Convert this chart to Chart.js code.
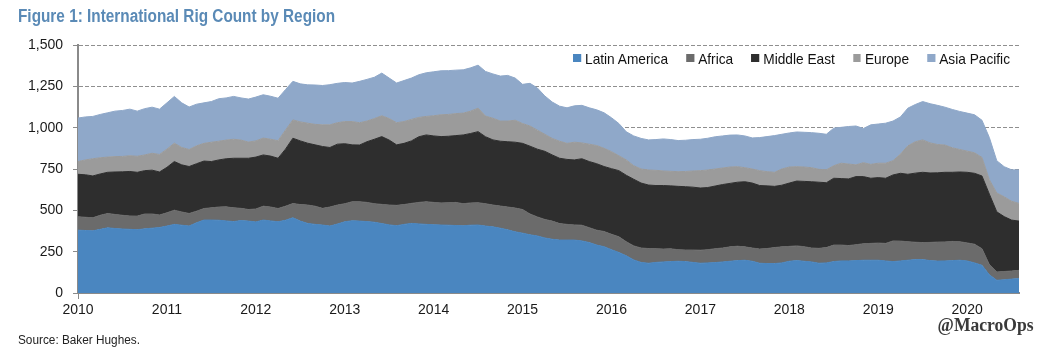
<!DOCTYPE html>
<html>
<head>
<meta charset="utf-8">
<script src="https://cdn.jsdelivr.net/npm/chart.js@4"></script>
<style>
  html, body { margin: 0; padding: 0; background: #fff; }
  #wrap { position: relative; width: 1061px; height: 357px; overflow: hidden; background: #fff; }
  #c { position: absolute; left: 0; top: 0; }
  .sans { font-family: 'Liberation Sans', Arial, sans-serif; }
  .fit { transform-origin: 0 50%; }
  #title { position: absolute; left: 18px; top: 6px; font-size: 18px; line-height: 20px; font-weight: bold; color: #5a8ab6; white-space: nowrap; }
  #source { position: absolute; left: 18px; top: 333px; font-size: 12px; line-height: 14px; color: #222; white-space: nowrap; }
  #mark { position: absolute; right: 25px; top: 315px; font-family: 'Liberation Serif', 'DejaVu Serif', serif; font-weight: bold; font-size: 18.5px; color: #3a3a3a; white-space: nowrap; }
  #legend { position: absolute; left: 573px; top: 49px; height: 18px; display: flex; align-items: center; font-size: 15px; color: #111; white-space: nowrap; }
  #legend .item { display: flex; align-items: center; margin-right: 19.8px; }
  #legend .item:last-child { margin-right: 0; }
  #legend .box { width: 8.8px; height: 8px; margin-right: 4.4px; }
</style>
</head>
<body>
<div id="wrap">
  <canvas id="c" width="1061" height="357"></canvas>
  <div id="title" class="sans fit">Figure 1: International Rig Count by Region</div>
  <div id="legend" class="sans fit"></div>
  <div id="source" class="sans fit">Source: Baker Hughes.</div>
  <div id="mark">@MacroOps</div>
</div>
<script>
// Tick labels (years) and y ticks
const yearTicks = ['2010','2011','2012','2013','2014','2015','2016','2017','2018','2019','2020'];
const yTickValues = [0, 250, 500, 750, 1000, 1250, 1500];

// Categories: monthly, Jan 2010 .. Aug 2020 (128 months)
const months = [];
for (const y of yearTicks) {
  for (let m = 1; m <= 12; m++) {
    if (months.length < 128) months.push(y + '-' + String(m).padStart(2, '0'));
  }
}

const seriesNames = ['Latin America', 'Africa', 'Middle East', 'Europe', 'Asia Pacific'];
const seriesColors = ['#4a86c0', '#6b6b6b', '#2e2e2e', '#9b9b9b', '#8fa8c9'];

const latinAmerica = [
380,378,376,385,394,390,387,385,383,388,392,396,
405,415,410,405,425,441,441,440,436,432,438,435,
430,441,436,431,440,455,435,421,415,411,405,417,
431,437,435,432,428,420,412,407,415,421,418,415,
413,411,410,408,407,410,411,405,400,392,382,370,
362,352,345,333,325,320,320,320,315,305,290,280,
262,245,225,200,185,180,185,188,190,192,190,185,
180,182,184,188,192,196,198,192,180,178,178,182,
192,196,192,188,180,182,190,194,194,196,198,198,
198,194,190,194,198,202,202,196,193,194,196,198,
194,182,168,110,77,80,84,87];

const africa = [
81,80,79,85,87,85,83,81,82,90,86,76,
80,86,80,76,70,70,74,80,85,83,74,70,
78,84,84,80,85,86,100,111,110,101,115,115,
109,115,117,116,112,116,120,123,120,121,130,137,
135,134,136,140,133,135,135,135,132,134,138,144,
143,126,115,112,110,100,95,92,95,90,90,92,
93,95,85,85,87,89,83,78,77,70,70,75,
79,80,84,84,87,87,81,80,86,91,97,97,
90,89,88,84,90,93,100,96,93,96,100,102,
104,106,125,120,112,105,103,110,115,115,116,112,
109,113,100,62,50,50,49,50];

const middleEast = [
257,257,253,250,249,257,263,269,265,262,265,260,
275,294,285,284,287,287,280,285,291,300,303,310,
314,310,308,304,345,395,385,374,371,374,360,368,
363,344,343,367,390,410,393,366,370,378,397,404,
402,401,402,404,416,420,430,405,394,392,395,398,
400,410,410,412,400,395,393,393,402,400,402,393,
397,400,402,403,393,384,382,384,381,383,383,380,
376,376,379,384,384,387,394,393,384,379,370,373,
383,392,395,401,400,392,404,402,403,412,406,394,
396,394,399,410,408,418,425,420,419,421,418,422,
427,429,440,426,364,332,308,298];

const europe = [
77,90,104,98,92,93,93,95,97,95,102,106,
110,111,105,103,108,107,117,113,113,115,110,98,
98,102,102,106,115,111,115,121,124,131,137,130,
134,141,135,125,125,126,130,134,132,130,117,112,
122,132,132,133,132,135,142,125,131,122,125,133,
120,122,115,103,100,103,97,107,96,105,110,110,
103,90,93,82,85,91,92,88,88,89,92,98,
105,106,103,100,99,94,85,85,90,86,85,98,
97,87,87,85,78,78,76,93,90,71,84,84,
87,91,86,116,172,190,196,182,171,165,148,136,
128,124,112,87,114,120,114,107];

const asiaPacific = [
263,260,256,262,268,275,278,282,273,280,279,274,
280,283,270,257,252,245,246,257,255,259,255,260,
265,262,260,257,245,233,230,232,238,238,243,238,
236,233,250,252,250,258,245,240,248,250,258,264,
266,266,265,263,262,262,260,270,268,272,276,255,
237,258,255,232,220,212,215,220,227,220,216,215,
205,195,170,180,185,182,186,194,192,188,189,190,
190,192,195,194,193,192,192,188,200,212,222,210,
206,210,210,212,218,215,227,217,227,235,207,239,
237,242,240,225,228,225,232,237,237,229,232,230,
230,230,225,255,195,182,190,202];

const seriesData = [latinAmerica, africa, middleEast, europe, asiaPacific];

const FONT = "'Liberation Sans', Arial, sans-serif";

const datasets = seriesNames.map((name, k) => ({
  label: name,
  data: seriesData[k],
  backgroundColor: seriesColors[k],
  borderColor: seriesColors[k],
  borderWidth: 1,
  pointRadius: 0,
  pointHoverRadius: 0,
  tension: 0,
  fill: k === 0 ? 'origin' : '-1'
}));

const chart = new Chart(document.getElementById('c'), {
  type: 'line',
  data: { labels: months, datasets },
  options: {
    responsive: false,
    animation: false,
    events: [],
    layout: { padding: { left: 0, right: 42, top: 45, bottom: 0 } },
    plugins: { legend: { display: false }, tooltip: { enabled: false } },
    scales: {
      x: {
        type: 'category',
        offset: false,
        afterFit: (s) => { s.height = 64; },
        border: { display: true, color: '#8a8a8a', width: 2 },
        grid: {
          drawOnChartArea: false,
          drawTicks: true,
          tickLength: 6,
          tickWidth: 1,
          color: (ctx) => (ctx.index % 12 === 0 ? '#8a8a8a' : 'rgba(0,0,0,0)'),
          tickColor: (ctx) => (ctx.index % 12 === 0 ? '#8a8a8a' : 'rgba(0,0,0,0)')
        },
        ticks: {
          autoSkip: false,
          maxRotation: 0,
          minRotation: 0,
          padding: 3,
          color: '#1a1a1a',
          font: { family: FONT, size: 14 },
          callback: function (v, i) {
            return i % 12 === 0 ? yearTicks[i / 12] : null;
          }
        }
      },
      y: {
        stacked: true,
        min: 0,
        max: 1500,
        afterFit: (s) => { s.width = 78; },
        afterBuildTicks: (s) => { s.ticks = yTickValues.map(v => ({ value: v })); },
        border: { display: true, color: '#8a8a8a', width: 2, dash: [4, 2] },
        grid: {
          color: '#8f8f8f',
          lineWidth: 1,
          borderDash: [4, 2],
          drawTicks: true,
          tickLength: 5,
          tickColor: '#8a8a8a',
          tickBorderDash: []
        },
        ticks: {
          padding: 10,
          color: '#1a1a1a',
          font: { family: FONT, size: 14 },
          callback: (v) => Number(v).toLocaleString('en-US')
        }
      }
    }
  }
});

// HTML legend built from the chart's datasets
const legend = document.getElementById('legend');
chart.data.datasets.forEach(ds => {
  const item = document.createElement('div');
  item.className = 'item';
  const box = document.createElement('span');
  box.className = 'box';
  box.style.background = ds.backgroundColor;
  const txt = document.createElement('span');
  txt.textContent = ds.label;
  item.appendChild(box);
  item.appendChild(txt);
  legend.appendChild(item);
});

// Condense text horizontally to match the narrow typeface of the original
function fitWidth(id, target) {
  const el = document.getElementById(id);
  const w = el.getBoundingClientRect().width;
  if (w > 0) el.style.transform = 'scaleX(' + (target / w) + ')';
}
fitWidth('title', 317);
fitWidth('legend', 437);
fitWidth('source', 122);
fitWidth('mark', 96);
</script>
</body>
</html>
